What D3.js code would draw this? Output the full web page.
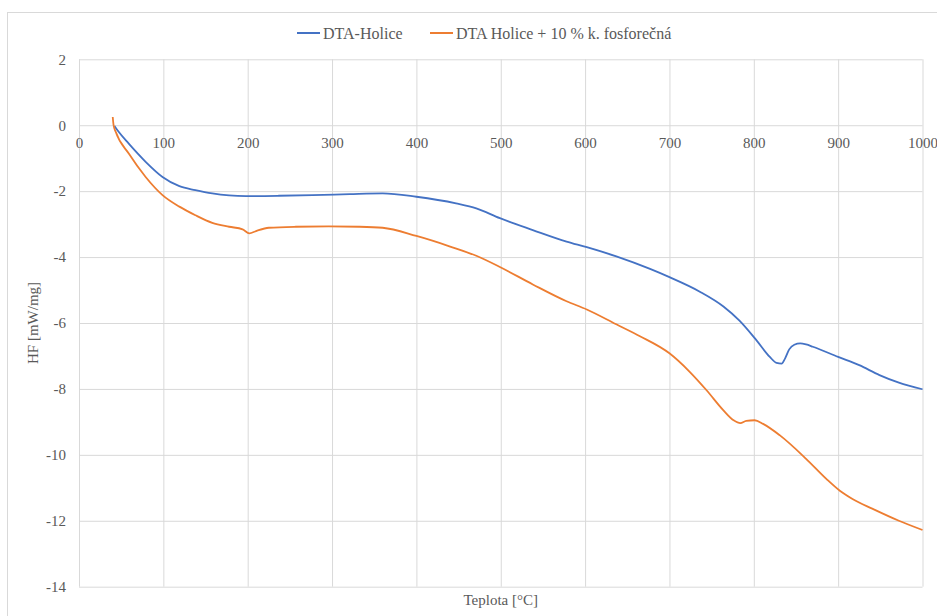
<!DOCTYPE html>
<html>
<head>
<meta charset="utf-8">
<script src="https://cdn.jsdelivr.net/npm/d3@7"></script>
<style>
  body { margin: 0; background: #fff; }
  text { font-family: "Liberation Serif", "Times New Roman", serif; fill: #595959; }
</style>
</head>
<body>
<div id="chart"></div>
<script>
// series names
var seriesNames = ["DTA-Holice", "DTA Holice + 10 % k. fosforečná"];

// DTA-Holice, temperature [°C] and heat flow [mW/mg]
var holiceT = [42, 47, 59, 79, 99, 119, 138, 158, 178, 198, 237, 277, 321, 360, 400, 447, 471, 499, 538, 578, 602, 637, 677, 700, 736, 764, 783, 803, 819, 827, 833, 837, 842, 848, 855, 862, 870, 900, 925, 949, 972, 1000];
var holiceHF = [-0.02, -0.2, -0.56, -1.11, -1.57, -1.85, -1.97, -2.07, -2.13, -2.15, -2.14, -2.12, -2.09, -2.07, -2.17, -2.37, -2.52, -2.82, -3.18, -3.53, -3.70, -3.98, -4.36, -4.61, -5.05, -5.50, -5.93, -6.52, -7.03, -7.21, -7.23, -7.08, -6.80, -6.66, -6.62, -6.65, -6.72, -7.03, -7.28, -7.58, -7.81, -8.01];

// DTA Holice + 10 % k. fosforečná
var fosT = [40, 41, 43.5, 59, 79, 99, 119, 138, 158, 178, 194, 202, 210, 225, 257, 296, 332, 360, 400, 440, 471, 499, 538, 578, 602, 637, 665, 700, 724, 744, 764, 776, 784, 791, 801, 811, 831, 862, 886, 902, 917, 941, 972, 1000];
var fosHF = [0.25, 0, -0.2, -0.86, -1.57, -2.12, -2.47, -2.73, -2.96, -3.08, -3.16, -3.28, -3.21, -3.11, -3.08, -3.07, -3.08, -3.11, -3.36, -3.68, -3.96, -4.30, -4.83, -5.34, -5.59, -6.04, -6.40, -6.92, -7.48, -8.04, -8.65, -8.95, -9.04, -8.97, -8.95, -9.06, -9.41, -10.12, -10.73, -11.09, -11.34, -11.64, -12.0, -12.28];

var xTicks = d3.range(0, 1001, 100);
var yTicks = d3.range(-14, 3, 2);

var width = 937, height = 616;
var margin = {top: 59.3, right: 14.5, bottom: 29.3, left: 79};
var plotW = width - margin.left - margin.right,
    plotH = height - margin.top - margin.bottom;

var colors = ["#4472C4", "#ED7D31"];

var svg = d3.select("#chart").append("svg")
    .attr("width", width)
    .attr("height", height);

// outer chart border
svg.append("rect")
    .attr("x", 7.5).attr("y", 12.5)
    .attr("width", 940).attr("height", 620)
    .attr("fill", "none")
    .attr("stroke", "#d9d9d9");

var x = d3.scaleLinear().domain([0, 1000]).range([margin.left, margin.left + plotW]);
var y = d3.scaleLinear().domain([-14, 2]).range([margin.top + plotH, margin.top]);

// gridlines
svg.append("g")
    .attr("transform", "translate(0," + (margin.top + plotH) + ")")
    .call(d3.axisBottom(x).tickValues(xTicks).tickSize(-plotH).tickFormat(""))
    .call(function(g) { g.select(".domain").remove(); })
    .selectAll("line").attr("stroke", "#d9d9d9");

svg.append("g")
    .attr("transform", "translate(" + margin.left + ",0)")
    .call(d3.axisLeft(y).tickValues(yTicks).tickSize(-plotW).tickFormat(""))
    .call(function(g) { g.select(".domain").remove(); })
    .selectAll("line").attr("stroke", "#d9d9d9");

// x labels sit under the zero line
var xAxis = svg.append("g")
    .attr("transform", "translate(0," + y(0) + ")")
    .call(d3.axisBottom(x).tickValues(xTicks).tickSize(0).tickPadding(12).tickFormat(function(d) { return String(d); }));
xAxis.attr("font-family", null).attr("font-size", null);
xAxis.select(".domain").remove();
xAxis.selectAll("text").style("font-size", "15px").attr("fill", "#595959");

var yAxis = svg.append("g")
    .attr("transform", "translate(" + margin.left + ",0)")
    .call(d3.axisLeft(y).tickValues(yTicks).tickSize(0).tickPadding(13).tickFormat(function(d) { return String(d); }));
yAxis.attr("font-family", null).attr("font-size", null);
yAxis.select(".domain").remove();
yAxis.selectAll("text").style("font-size", "15px").attr("fill", "#595959");

// lines
var line = d3.line()
    .x(function(d) { return x(d[0]); })
    .y(function(d) { return y(d[1]); })
    .curve(d3.curveMonotoneX);

var series = [
    d3.zip(holiceT, holiceHF),
    d3.zip(fosT, fosHF)
];

svg.selectAll(".series").data(series)
    .enter().append("path")
    .attr("class", "series")
    .attr("d", line)
    .attr("fill", "none")
    .attr("stroke", function(d, i) { return colors[i]; })
    .attr("stroke-width", 1.8)
    .attr("stroke-linejoin", "round");

// axis titles
svg.append("text")
    .attr("x", x(500))
    .attr("y", 605)
    .attr("text-anchor", "middle")
    .style("font-size", "15px")
    .text("Teplota [°C]");

svg.append("text")
    .attr("transform", "translate(38," + y(-6) + ") rotate(-90)")
    .attr("text-anchor", "middle")
    .style("font-size", "15px")
    .text("HF [mW/mg]");

// legend
var legendX = [297, 430];
var legend = svg.selectAll(".legend").data(seriesNames)
    .enter().append("g")
    .attr("class", "legend")
    .attr("transform", function(d, i) { return "translate(" + legendX[i] + ",33)"; });
legend.append("line")
    .attr("x1", 0).attr("x2", 23)
    .attr("stroke", function(d, i) { return colors[i]; })
    .attr("stroke-width", 2);
legend.append("text")
    .attr("x", 26)
    .attr("dy", "0.35em")
    .style("font-size", "16px")
    .text(function(d) { return d; });
</script>
</body>
</html>
